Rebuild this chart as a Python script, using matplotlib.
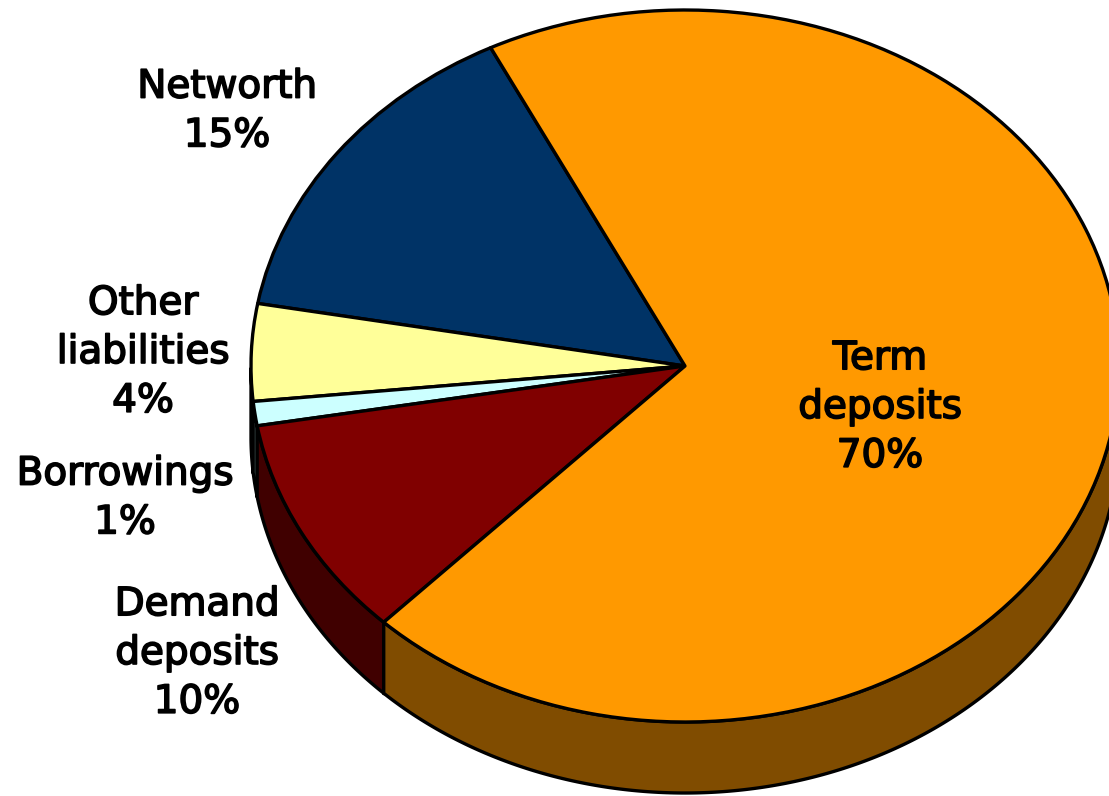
import numpy as np
import matplotlib
matplotlib.use("Agg")
import matplotlib.pyplot as plt
import matplotlib.patheffects as pe

# order goes counter clockwise starting from the Networth slice
names = ["Networth", "Other\nliabilities", "Borrowings", "Demand\ndeposits", "Term\ndeposits"]
shares = [14.8, 4.4, 1.1, 10.1, 69.6]
pct_labels = ["15%", "4%", "1%", "10%", "70%"]
colors = ["#003366", "#FFFF99", "#CCFFFF", "#800000", "#FF9900"]
side_colors = ["#001A33", "#80804D", "#668080", "#400000", "#804C00"]

W, H = 1109, 796
cx, cy = 685, 366
rx, ry = 434, 356
depth = 71 / ry

label_x = [227, 143, 125, 197, 880]
label_y = [111, 352, 498, 653, 407]

fig = plt.figure(figsize=(W / 100, H / 100), dpi=100)
ax = fig.add_axes([0, 0, 1, 1])

wedges, _ = ax.pie(shares, colors=colors, startangle=116.6, counterclock=True, normalize=True,
                   wedgeprops={"edgecolor": "black", "linewidth": 2.4, "joinstyle": "round", "zorder": 3})

# side wall of the disc, only the part of each slice facing front
for w, c in zip(wedges, side_colors):
    a = np.arange(w.theta1, w.theta2 + 0.5, 0.5)
    a = np.append(a, w.theta2)
    a = a[(a % 360 >= 180)]
    if len(a) < 2:
        continue
    t = np.radians(a)
    x = np.cos(t)
    y = np.sin(t)
    xs = np.concatenate([x, x[::-1]])
    ys = np.concatenate([y, y[::-1] - depth])
    ax.fill(xs, ys, facecolor=c, edgecolor="black", linewidth=2.4, zorder=2, joinstyle="round")

# pie forces equal aspect, the disc here is squashed
ax.set_aspect("auto")
ax.set_xlim(-cx / rx, (W - cx) / rx)
ax.set_ylim((cy - H) / ry, cy / ry)
ax.axis("off")

for n, s, lx, ly in zip(names, pct_labels, label_x, label_y):
    fig.text(lx / W, 1 - ly / H, n + "\n" + s, ha="center", va="center", multialignment="center",
             fontsize=28, family="DejaVu Sans", color="black", linespacing=1.36, zorder=10,
             path_effects=[pe.withStroke(linewidth=1.2, foreground="black")])

fig.savefig("out.png", dpi=100, facecolor="white")
